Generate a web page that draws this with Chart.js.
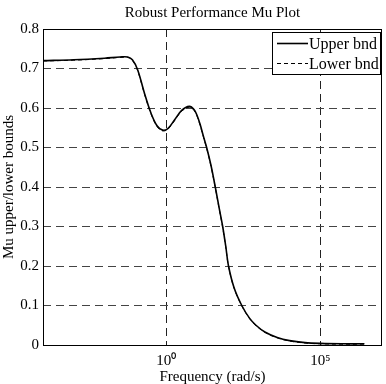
<!DOCTYPE html>
<html>
<head>
<meta charset="utf-8">
<script src="https://cdn.jsdelivr.net/npm/chart.js@4/dist/chart.umd.min.js"></script>
<style>
  html, body { margin: 0; padding: 0; background: #fff; }
  #wrap { width: 386px; height: 384px; }
</style>
</head>
<body>
<div id="wrap"><canvas id="myChart" width="386" height="384"></canvas></div>
<script>
// log10 of frequency (rad/s)
const logFreq = [-4, -3, -2, -1.5, -1.25, -1.1, -0.93, -0.71, -0.5, -0.3, -0.12, 0.05, 0.26, 0.5, 0.75,
  0.9, 1.0, 1.1, 1.2, 1.31, 1.45, 1.59, 1.72, 1.83, 1.93, 2.02, 2.2, 2.45, 2.7, 2.91, 3.2, 3.6, 4.0, 4.5, 5.0, 5.7, 6.43];
const upperBnd = [0.720, 0.722, 0.726, 0.729, 0.729, 0.722, 0.697, 0.638, 0.588, 0.555, 0.544, 0.548, 0.569, 0.594, 0.604,
  0.596, 0.581, 0.558, 0.530, 0.500, 0.455, 0.400, 0.345, 0.300, 0.250, 0.200, 0.145, 0.100, 0.068, 0.050, 0.033, 0.019, 0.011, 0.006, 0.004, 0.003, 0.003];
const lowerBnd = [0.719, 0.721, 0.725, 0.728, 0.728, 0.721, 0.695, 0.636, 0.586, 0.553, 0.542, 0.546, 0.567, 0.592, 0.602,
  0.594, 0.579, 0.556, 0.528, 0.498, 0.453, 0.398, 0.343, 0.298, 0.248, 0.199, 0.144, 0.099, 0.067, 0.049, 0.032, 0.018, 0.010, 0.005, 0.003, 0.002, 0.002];
const xTicks = [1, 1e5];
const xTickLabels = ["10\u2070", "10\u2075"];
const yTicks = [0, 0.1, 0.2, 0.3, 0.4, 0.5, 0.6, 0.7, 0.8];
const seriesNames = ["Upper bnd", "Lower bnd"];

const FONT = "'Liberation Serif', 'Times New Roman', serif";
const toPts = (ys) => ys.map((y, i) => ({ x: Math.pow(10, logFreq[i]), y: y }));

// title, frame and the boxed legend inside the plot, MATLAB style
const decor = {
  id: "decor",
  afterDatasetsDraw(chart) {
    const { ctx, chartArea: a } = chart;
    ctx.save();
    ctx.strokeStyle = "#000";
    ctx.lineWidth = 1;
    ctx.strokeRect(Math.round(a.left) + 0.5, Math.round(a.top) + 0.5,
      Math.round(a.right - a.left) - 1, Math.round(a.bottom - a.top));

    ctx.fillStyle = "#000";
    ctx.font = "15px " + FONT;
    ctx.textAlign = "center";
    ctx.textBaseline = "alphabetic";
    ctx.fillText("Robust Performance Mu Plot", (a.left + a.right) / 2, 17);

    // legend box
    const bx = 272, by = 32, bw = 108, bh = 42;
    ctx.fillStyle = "#fff";
    ctx.fillRect(bx, by, bw, bh);
    ctx.strokeRect(bx + 0.5, by + 0.5, bw, bh);
    ctx.font = "16px " + FONT;
    ctx.textAlign = "left";
    ctx.textBaseline = "middle";
    seriesNames.forEach((name, i) => {
      const y = by + 11.5 + i * 20;
      const ds = chart.data.datasets[i];
      ctx.strokeStyle = "#000";
      ctx.lineWidth = ds.borderWidth;
      ctx.setLineDash(ds.borderDash || []);
      ctx.beginPath();
      ctx.moveTo(bx + 5, y);
      ctx.lineTo(bx + 36, y);
      ctx.stroke();
      ctx.setLineDash([]);
      ctx.fillStyle = "#000";
      ctx.fillText(name, bx + 37, y + 1.5);
    });
    ctx.restore();
  }
};

const ctx = document.querySelector("#myChart").getContext("2d");
const myChart = new Chart(ctx, {
  type: "line",
  data: {
    datasets: [
      {
        label: seriesNames[0],
        data: toPts(upperBnd),
        borderColor: "#000",
        borderWidth: 1.6,
        pointRadius: 0,
        tension: 0.35,
        fill: false,
      },
      {
        label: seriesNames[1],
        data: toPts(lowerBnd),
        borderColor: "#000",
        borderWidth: 1,
        borderDash: [4, 3],
        pointRadius: 0,
        tension: 0.35,
        fill: false,
      },
    ],
  },
  options: {
    responsive: false,
    animation: false,
    layout: { padding: { top: 29, right: 4, bottom: 0, left: 0 } },
    plugins: {
      legend: { display: false },
      title: { display: false },
      tooltip: { enabled: false },
    },
    scales: {
      x: {
        type: "logarithmic",
        min: 1e-4,
        max: 1e7,
        afterBuildTicks: (scale) => {
          scale.ticks = xTicks.map((v) => ({ value: v }));
        },
        afterFit: (scale) => { scale.height = 39; },
        ticks: {
          autoSkip: false,
          maxRotation: 0,
          padding: 7,
          color: "#000",
          font: { family: FONT, size: 15 },
          callback: (v) => xTickLabels[xTicks.indexOf(v)],
        },
        grid: { color: "#222", lineWidth: 1, drawTicks: false },
        border: { display: false, dash: [8, 5] },
        title: {
          display: true,
          text: "Frequency (rad/s)",
          color: "#000",
          font: { family: FONT, size: 15 },
          padding: { top: 0, bottom: -2 },
        },
      },
      y: {
        type: "linear",
        min: 0,
        max: 0.8,
        afterBuildTicks: (scale) => {
          scale.ticks = yTicks.map((v) => ({ value: v }));
        },
        afterFit: (scale) => { scale.width = 43; },
        ticks: {
          padding: 4,
          color: "#000",
          font: { family: FONT, size: 15 },
          callback: (v) => (v === 0 ? "0" : v.toFixed(1)),
        },
        grid: { color: "#444", lineWidth: 1, drawTicks: false },
        border: { display: false, dash: [8, 5] },
        title: {
          display: true,
          text: "Mu upper/lower bounds",
          color: "#000",
          font: { family: FONT, size: 15 },
          padding: { top: 0, bottom: 0 },
        },
      },
    },
  },
  plugins: [decor],
});
</script>
</body>
</html>
